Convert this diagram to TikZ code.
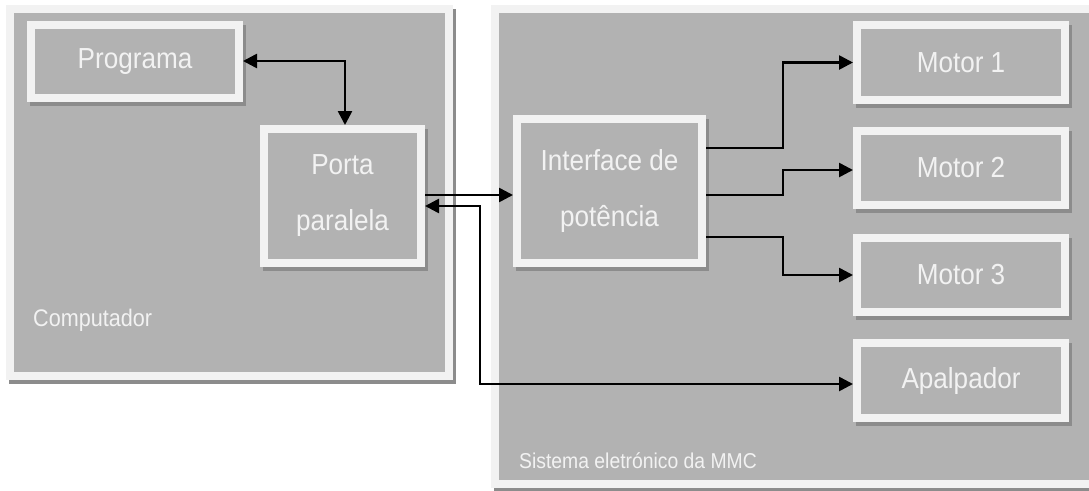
\documentclass[tikz,border=0pt]{standalone}
\usepackage{fontspec}
\setmainfont[FakeStretch=0.9]{Liberation Sans}
\usetikzlibrary{arrows.meta}
\definecolor{panelgray}{HTML}{B2B2B2}
\definecolor{rimc}{HTML}{F2F2F2}
\definecolor{shadc}{HTML}{8C8C8C}
\tikzset{
  blk/.style={draw=rimc, line width=8pt, fill=panelgray, text=rimc,
    font=\fontsize{29}{56}\selectfont, align=center, inner sep=0pt},
  panelbox/.style={draw=rimc, line width=8pt, fill=panelgray},
  lbl/.style={text=rimc, inner sep=0pt},
  arr/.style={draw=black, line width=2.6pt, -{Triangle[length=14pt,width=14pt]}},
  arrboth/.style={draw=black, line width=2.6pt, {Triangle[length=14pt,width=14pt]}-{Triangle[length=14pt,width=14pt]}}
}
\newcommand\blkbox[6]{%
  \fill[shadc] ({#2+3},{#3+4}) rectangle ({#4+3},{#5+4});
  \node[blk, minimum width={#4-#2-8}, minimum height={#5-#3-8}] (#1) at ({(#2+#4)/2},{(#3+#5)/2}) {#6};}
\begin{document}
\begin{tikzpicture}[x=1pt,y=-1pt]
\useasboundingbox (0,0) rectangle (1089,490);
\clip (0,0) rectangle (1089,490);
\fill[white] (0,0) rectangle (1089,490);
% panels
\fill[shadc] (9,9) rectangle (456,384);
\draw[panelbox] (10,9) rectangle (449,376);
\fill[shadc] (494,9) rectangle (1123,493);
\draw[panelbox] (495,9) rectangle (1116,484);
\node[lbl, anchor=base west, font=\fontsize{24}{28}\selectfont] (comp) at (33,326) {Computador};
\node[lbl, anchor=base west, font=\fontsize{21.5}{26}\selectfont] (sist) at (519,468) {Sistema eletrónico da MMC};
% blocks
\blkbox{prog}{27}{21}{243}{102}{Programa}
\blkbox{porta}{260}{125}{425}{267}{Porta\\paralela}
\blkbox{iface}{513}{115}{706}{267}{Interface de\\potência}
\blkbox{m1}{853}{21}{1069}{104}{Motor 1}
\blkbox{m2}{853}{127}{1069}{209}{Motor 2}
\blkbox{m3}{853}{234}{1069}{316}{Motor 3}
\blkbox{apal}{853}{339}{1069}{422}{Apalpador}
% junctions
\coordinate (jp) at (345,61);
\coordinate (ja) at (480,206);
\coordinate (j1) at (783,148);
\coordinate (j2) at (783,195);
\coordinate (j3) at (783,237);
% connectors
\draw[arrboth] (prog.east |- jp) -- (jp) -- (jp |- porta.north);
\draw[arr] (porta.east |- j2) -- (iface.west |- j2);
\draw[arrboth] (apal.west |- 0,384) -| (ja) -- (porta.east |- ja);
\draw[arr] (iface.east |- j1) -- (j1) |- (m1.west);
\draw[arr] (iface.east |- j2) -- (j2) |- (m2.west |- 0,170);
\draw[arr] (iface.east |- j3) -- (j3) |- (m3.west);
\end{tikzpicture}
\end{document}
